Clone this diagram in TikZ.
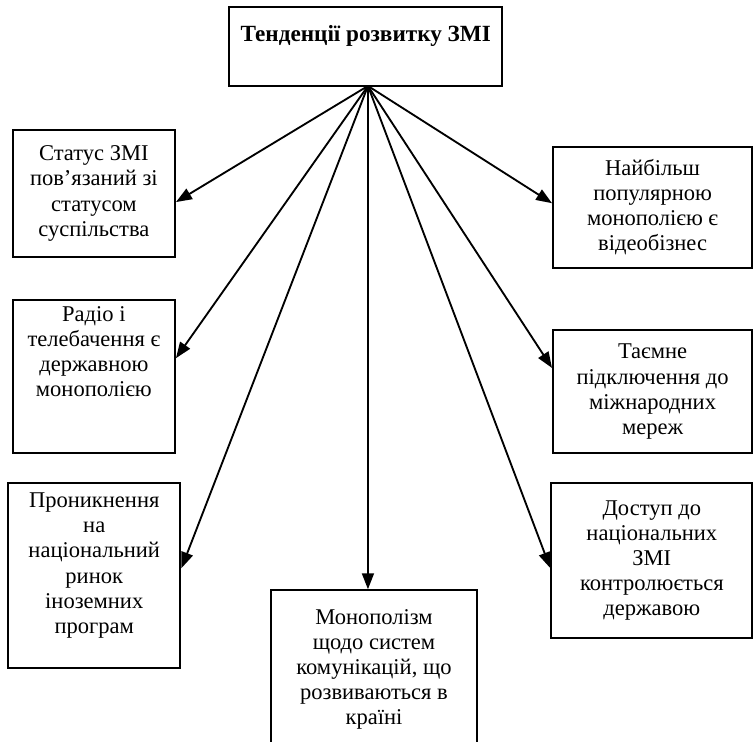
\documentclass[tikz,border=0pt]{standalone}
\usepackage{fontspec}
\setmainfont{Liberation Serif}
\usetikzlibrary{positioning, arrows.meta, calc}

\begin{document}
\begin{tikzpicture}[
    box/.style={draw, line width=1.6pt, align=center, inner sep=2pt, font=\fontsize{17}{19}\selectfont},
    link/.style={line width=1.4pt, -{Triangle[length=12pt, width=9pt]}},
]
    \useasboundingbox (0,0) rectangle (20,19.66);
    \clip (0,0) rectangle (20,19.66);

    % Top
    \node[box, minimum width=7.24cm, minimum height=2.09cm, font=\fontsize{17.5}{19}\selectfont\bfseries] (top) at (9.70,18.43) {Тенденції розвитку ЗМІ\\};
    \coordinate (hub) at (9.76,17.38);

    % Left column
    \node[box, minimum width=4.30cm, minimum height=3.37cm] (left1) at (2.49,14.53) {Статус ЗМІ\\пов’язаний зі\\статусом\\суспільства};
    \node[box, minimum width=4.30cm, minimum height=4.06cm] (left2) at (2.49,9.67) {Радіо і\\телебачення є\\державною\\монополією\\[19pt]};
    \node[box, minimum width=4.57cm, minimum height=4.90cm] (left3) at (2.50,4.39) {Проникнення\\на\\національний\\ринок\\іноземних\\програм\\};

    % Middle
    \node[box, minimum width=5.46cm, minimum height=4.20cm, anchor=north] (mid) at (9.92,4.03) {Монополізм\\щодо систем\\комунікацій, що\\розвиваються в\\країні};

    % Right column
    \node[box, minimum width=5.28cm, minimum height=3.21cm] (right1) at (17.31,14.16) {Найбільш\\популярною\\монополією є\\відеобізнес};
    \node[box, minimum width=5.28cm, minimum height=3.26cm] (right2) at (17.31,9.27) {Таємне\\підключення до\\міжнародних\\мереж};
    \node[box, minimum width=5.33cm, minimum height=4.11cm] (right3) at (17.29,4.79) {Доступ до\\національних\\ЗМІ\\контролюється\\державою};

    % Arrows
    \draw[link] (hub) -- ($(left1.east)+(0,-0.23)$);
    \draw[link] (hub) -- ($(left2.east)+(0,0.49)$);
    \draw[link] (hub) -- ($(left3.east)+(0,0.20)$);
    \draw[link] (hub) -- (hub |- mid.north);
    \draw[link] (hub) -- ($(right1.west)+(0,0.11)$);
    \draw[link] (hub) -- ($(right2.west)+(0,0.63)$);
    \draw[link] (hub) -- ($(right3.west)+(0,-0.20)$);
\end{tikzpicture}
\end{document}
